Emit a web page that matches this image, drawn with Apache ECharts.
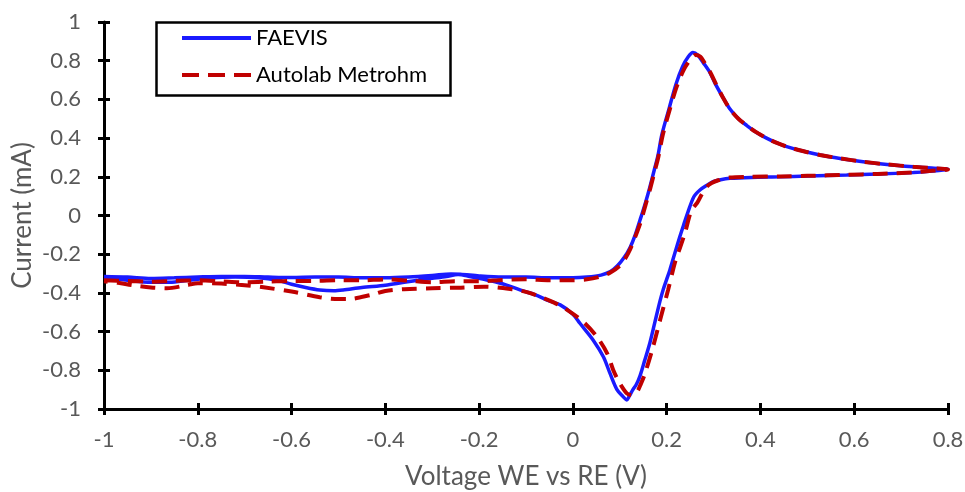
<!DOCTYPE html>
<html>
<head>
<meta charset="utf-8">
<script src="https://cdn.jsdelivr.net/npm/echarts@6/dist/echarts.min.js"></script>
<style>
  html, body { margin: 0; padding: 0; background: #ffffff; }
  #chart { width: 965px; height: 492px; }
</style>
</head>
<body>
<div id="chart"></div>
<script>
// Cyclic voltammograms: potential (V) and current (mA), one closed loop per instrument.
const xTicks = { min: -1, max: 0.8, step: 0.2 };
const yTicks = { min: -1, max: 1, step: 0.2 };

const seriesNames = ['FAEVIS', 'Autolab Metrohm'];

// FAEVIS: forward sweep -1 V -> 0.8 V, then reverse sweep back to -1 V
const faevisV = [
  -1, -0.95, -0.9, -0.85, -0.8, -0.75, -0.7, -0.65, -0.6, -0.55, -0.5, -0.45, -0.4, -0.35, -0.3, -0.26, -0.24, -0.2, -0.15, -0.1, -0.05, 0, 0.03, 0.06, 0.08, 0.095, 0.11, 0.122, 0.133, 0.143, 0.154, 0.164, 0.173, 0.181, 0.19, 0.206, 0.22, 0.234, 0.246, 0.256, 0.266, 0.278, 0.292, 0.305, 0.32, 0.335, 0.353, 0.371, 0.39, 0.413, 0.435, 0.456, 0.49, 0.527, 0.57, 0.619, 0.67, 0.726, 0.765, 0.8,
  0.76, 0.726, 0.65, 0.584, 0.5, 0.442, 0.38, 0.335, 0.315, 0.299, 0.285, 0.271, 0.258, 0.245, 0.236, 0.228, 0.218, 0.207, 0.2, 0.193, 0.186, 0.175, 0.164, 0.153, 0.143, 0.135, 0.128, 0.12, 0.115, 0.107, 0.094, 0.079, 0.065, 0.043, 0.015, 0, -0.027, -0.055, -0.08, -0.106, -0.135, -0.162, -0.19, -0.22, -0.245, -0.27, -0.3, -0.33, -0.36, -0.4, -0.45, -0.49, -0.51, -0.54, -0.57, -0.6, -0.63, -0.67, -0.72, -0.77, -0.82, -0.86, -0.9, -0.95, -1
];
const faevisI = [
  -0.315, -0.318, -0.325, -0.322, -0.318, -0.315, -0.315, -0.318, -0.32, -0.318, -0.318, -0.322, -0.322, -0.318, -0.31, -0.302, -0.303, -0.312, -0.318, -0.318, -0.322, -0.322, -0.318, -0.308, -0.29, -0.26, -0.215, -0.165, -0.1, -0.025, 0.06, 0.145, 0.23, 0.305, 0.42, 0.56, 0.68, 0.77, 0.82, 0.842, 0.83, 0.79, 0.74, 0.675, 0.61, 0.55, 0.5, 0.465, 0.432, 0.4, 0.375, 0.356, 0.333, 0.313, 0.295, 0.278, 0.264, 0.252, 0.245, 0.239,
  0.228, 0.222, 0.214, 0.209, 0.204, 0.2, 0.197, 0.192, 0.185, 0.175, 0.155, 0.132, 0.097, 0.015, -0.05, -0.11, -0.19, -0.28, -0.33, -0.38, -0.44, -0.55, -0.66, -0.75, -0.83, -0.875, -0.9, -0.935, -0.953, -0.936, -0.9, -0.815, -0.73, -0.643, -0.557, -0.51, -0.462, -0.437, -0.41, -0.39, -0.365, -0.345, -0.33, -0.315, -0.305, -0.315, -0.325, -0.335, -0.345, -0.36, -0.372, -0.385, -0.389, -0.385, -0.372, -0.355, -0.335, -0.322, -0.318, -0.322, -0.335, -0.345, -0.345, -0.335, -0.322
];

// Autolab Metrohm: same sweep program
const autolabV = [
  -1, -0.95, -0.9, -0.85, -0.8, -0.75, -0.7, -0.65, -0.6, -0.55, -0.5, -0.45, -0.4, -0.35, -0.3, -0.25, -0.2, -0.15, -0.1, -0.05, 0, 0.03, 0.06, 0.08, 0.1, 0.112, 0.122, 0.133, 0.145, 0.155, 0.165, 0.174, 0.182, 0.192, 0.208, 0.222, 0.238, 0.252, 0.262, 0.272, 0.282, 0.294, 0.307, 0.32, 0.335, 0.353, 0.371, 0.39, 0.413, 0.435, 0.456, 0.49, 0.527, 0.57, 0.619, 0.67, 0.726, 0.765, 0.8,
  0.76, 0.726, 0.65, 0.584, 0.5, 0.442, 0.38, 0.334, 0.31, 0.296, 0.286, 0.275, 0.265, 0.253, 0.239, 0.228, 0.218, 0.203, 0.186, 0.171, 0.154, 0.145, 0.137, 0.126, 0.115, 0.1, 0.086, 0.073, 0.051, 0.022, -0.017, -0.04, -0.07, -0.1, -0.13, -0.19, -0.245, -0.3, -0.36, -0.4, -0.43, -0.48, -0.5, -0.54, -0.6, -0.66, -0.7, -0.75, -0.8, -0.823, -0.866, -0.9, -0.94, -0.97, -1
];
const autolabI = [
  -0.335, -0.338, -0.342, -0.338, -0.335, -0.34, -0.345, -0.342, -0.338, -0.338, -0.335, -0.335, -0.33, -0.337, -0.345, -0.34, -0.34, -0.333, -0.33, -0.335, -0.335, -0.33, -0.315, -0.295, -0.26, -0.22, -0.175, -0.11, -0.03, 0.055, 0.14, 0.225, 0.3, 0.42, 0.56, 0.67, 0.76, 0.81, 0.83, 0.82, 0.785, 0.735, 0.67, 0.61, 0.55, 0.5, 0.465, 0.432, 0.4, 0.375, 0.356, 0.333, 0.313, 0.295, 0.278, 0.264, 0.252, 0.245, 0.238,
  0.23, 0.223, 0.215, 0.21, 0.205, 0.202, 0.2, 0.196, 0.182, 0.168, 0.15, 0.11, 0.065, 0.028, -0.09, -0.17, -0.24, -0.385, -0.54, -0.678, -0.815, -0.87, -0.91, -0.928, -0.919, -0.867, -0.798, -0.712, -0.626, -0.549, -0.48, -0.45, -0.42, -0.395, -0.381, -0.368, -0.373, -0.376, -0.381, -0.39, -0.41, -0.432, -0.432, -0.422, -0.393, -0.371, -0.36, -0.352, -0.35, -0.36, -0.376, -0.372, -0.36, -0.348, -0.34
];

const pairs = (xs, ys) => xs.map((x, i) => [x, ys[i]]);

const FONT = 'Lato, "Noto Sans", sans-serif';
const GREY = '#595959';
const BLUE = '#1a1aff';
const RED = '#c00000';

function axisBase(extra) {
  return Object.assign({
    type: 'value',
    splitLine: { show: false },
    axisLine: { onZero: false, lineStyle: { color: '#000', width: 3 } },
    axisTick: { length: 6, lineStyle: { color: '#000', width: 3 } },
    axisLabel: { fontFamily: FONT, fontSize: 22, color: GREY }
  }, extra);
}

const chart = echarts.init(document.getElementById('chart'), null, { renderer: 'canvas' });

chart.setOption({
  animation: false,
  backgroundColor: '#ffffff',
  grid: { left: 104, right: 17, top: 22, bottom: 83, containLabel: false, outerBoundsMode: 'none' },
  xAxis: [
    axisBase({
      min: xTicks.min, max: xTicks.max, interval: xTicks.step, position: 'bottom',
      name: 'Voltage WE vs RE (V)', nameLocation: 'middle', nameGap: 55, nameMoveOverlap: false,
      nameTextStyle: { fontFamily: FONT, fontSize: 26, color: GREY },
      axisLabel: { fontFamily: FONT, fontSize: 22, color: GREY, margin: 20 }
    }),
    axisBase({
      min: xTicks.min, max: xTicks.max, interval: xTicks.step, position: 'bottom',
      axisLine: { show: false, onZero: false },
      axisTick: { inside: true, length: 6, lineStyle: { color: '#000', width: 3 } },
      axisLabel: { show: false }
    })
  ],
  yAxis: [
    axisBase({
      min: yTicks.min, max: yTicks.max, interval: yTicks.step, position: 'left',
      name: 'Current (mA)', nameLocation: 'middle', nameGap: 68, nameMoveOverlap: false,
      nameTextStyle: { fontFamily: FONT, fontSize: 26, color: GREY },
      axisLabel: { fontFamily: FONT, fontSize: 22, color: GREY, margin: 23 }
    }),
    axisBase({
      min: yTicks.min, max: yTicks.max, interval: yTicks.step, position: 'left',
      axisLine: { show: false, onZero: false },
      axisTick: { inside: true, length: 6, lineStyle: { color: '#000', width: 3 } },
      axisLabel: { show: false }
    })
  ],
  legend: {
    left: 177, top: 22, orient: 'vertical', padding: 5,
    itemWidth: 69, itemHeight: 4, itemGap: 15,
    itemStyle: { borderWidth: 0 },
    textStyle: { fontFamily: FONT, fontSize: 22, color: '#000' },
    data: [
      { name: seriesNames[0], icon: 'path://M0,0H69V4H0Z' },
      { name: seriesNames[1], icon: 'path://M0,0H17V4H0Z M26,0H43V4H26Z M52,0H69V4H52Z' }
    ]
  },
  graphic: [{
    type: 'rect', left: 154, top: 20, z: 10,
    shape: { width: 294, height: 73 },
    style: { fill: 'none', stroke: '#000', lineWidth: 2.5 }
  }],
  series: [
    {
      name: seriesNames[0], type: 'line', xAxisIndex: 0, yAxisIndex: 0,
      data: pairs(faevisV, faevisI), showSymbol: false, symbol: 'none', smooth: 0.3,
      lineStyle: { color: BLUE, width: 3.5 }, itemStyle: { color: BLUE }, z: 2
    },
    {
      name: seriesNames[1], type: 'line', xAxisIndex: 0, yAxisIndex: 0,
      data: pairs(autolabV, autolabI), showSymbol: false, symbol: 'none', smooth: 0.3,
      lineStyle: { color: RED, width: 4, type: [15, 9] }, itemStyle: { color: RED }, z: 3
    }
  ]
});
</script>
</body>
</html>
